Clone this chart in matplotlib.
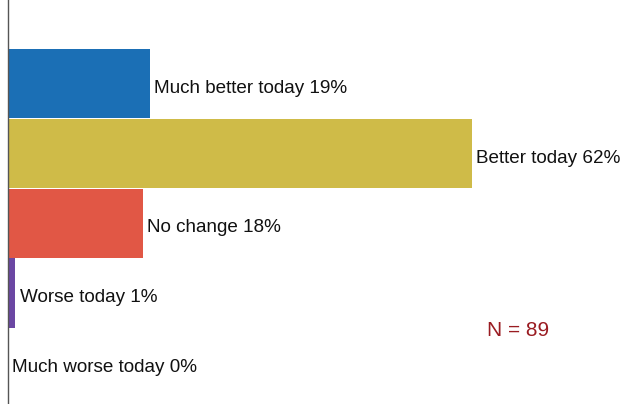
import matplotlib.pyplot as plt

categories = ["Much better today", "Better today", "No change",
              "Worse today", "Much worse today"]
percents = [19, 62, 18, 1, 0]
colors = ["#1b6fb5", "#cfbb48", "#e15745", "#6b47a3", "#ffffff"]
n_label = "N = 89"

plt.rcParams["font.family"] = ["Liberation Sans", "DejaVu Sans"]

fig = plt.figure(figsize=(6.29, 4.04), dpi=100)
ax = fig.add_axes([8 / 629, 0, 1 - 8 / 629, 1])

ypos = list(range(len(categories)))
ax.barh(ypos, percents, height=0.99, color=colors, linewidth=0)

for y, cat, p in zip(ypos, categories, percents):
    ax.text(p + 0.55, y + 0.04, f"{cat} {p}%", va="center_baseline",
            ha="left", fontsize=13.6, color="#111111")

ax.text(0.821, 0.183, n_label, transform=ax.transAxes, fontsize=15,
        color="#9a1c22", ha="center", va="center")

ax.set_xlim(0, 83)
ax.set_ylim(4.59, -1.196)
ax.set_xticks([])
ax.set_yticks([])
for side in ["top", "right", "bottom"]:
    ax.spines[side].set_visible(False)
ax.spines["left"].set_color("#555555")
ax.spines["left"].set_linewidth(1.0)

fig.savefig("out.png", dpi=100)
